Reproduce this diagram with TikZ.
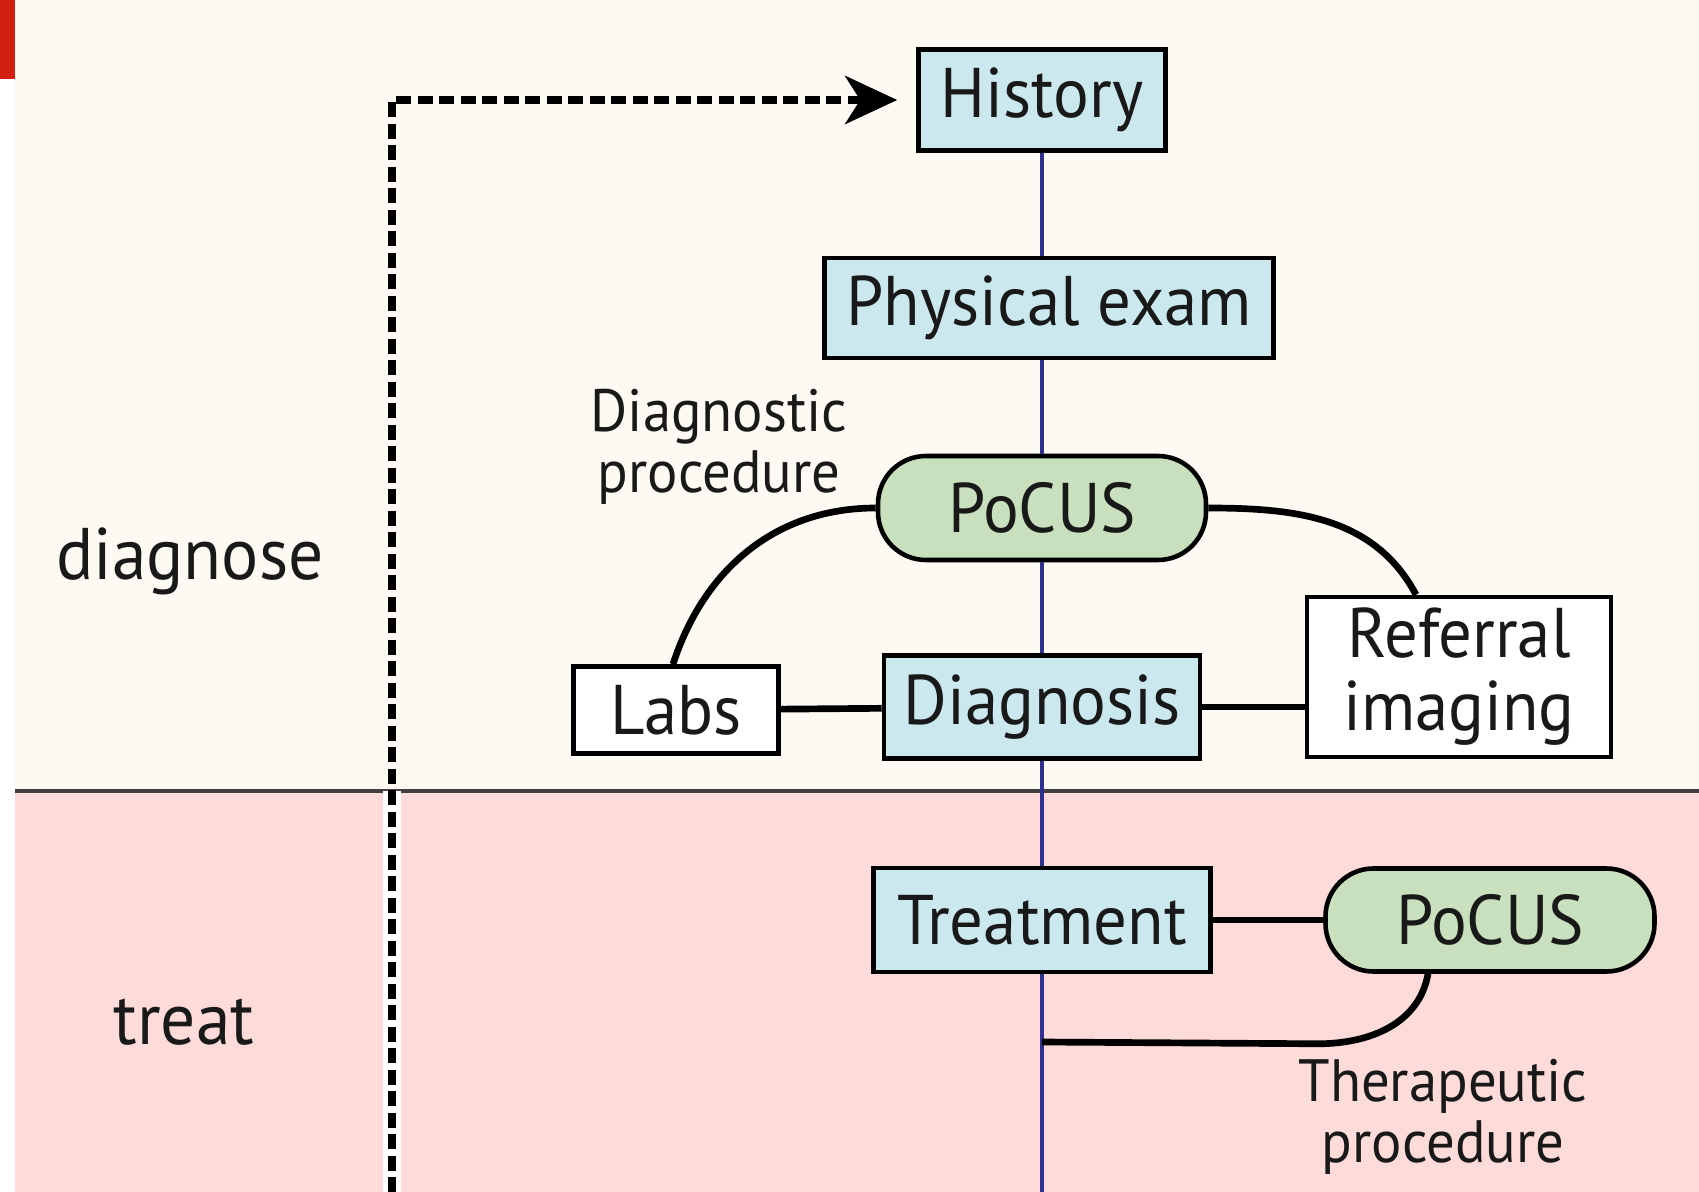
\documentclass[tikz,border=0pt]{standalone}
\usepackage{fontspec}
\setmainfont[FakeStretch=0.95]{PT Sans}
\usetikzlibrary{arrows.meta}
\definecolor{cream}{RGB}{253,249,243}
\definecolor{blush}{RGB}{252,219,216}
\definecolor{boxblue}{RGB}{204,232,239}
\definecolor{boxgreen}{RGB}{200,224,190}
\definecolor{axisblue}{RGB}{46,49,146}
\definecolor{tabred}{RGB}{212,32,16}

\begin{document}
\begin{tikzpicture}[x=0.1mm,y=-0.1mm]
\tikzstyle{every node}+=[inner sep=0pt,text=black!90]
\tikzstyle{stepbox}=[draw,line width=1.3pt,fill=boxblue,font=\fontsize{20}{24}\selectfont]
\tikzstyle{sidebox}=[draw,line width=1.3pt,fill=white,align=center,font=\fontsize{20}{20.8}\selectfont]
\tikzstyle{scanbox}=[draw,line width=1.3pt,fill=boxgreen,rounded corners=4.8mm,font=\fontsize{20}{24}\selectfont]
\tikzstyle{note}=[align=center,font=\fontsize{17}{17.2}\selectfont]
\tikzstyle{phase}=[font=\fontsize{20.8}{22}\selectfont]
\tikzstyle{link}=[black,line width=1.9pt]
\tikzstyle{spine}=[axisblue,line width=1.3pt]
\tikzstyle{loop}=[black,line width=2.3pt,dash pattern=on 1.5mm off 0.65mm]
\useasboundingbox (0,0) rectangle (1699,1192);
\fill [white] (0,0) rectangle (1699,1192);
\fill [cream] (15,0) rectangle (1699,791);
\fill [blush] (15,791) rectangle (1699,1192);
\fill [tabred] (0,0) rectangle (15,79);
\draw [black!75,line width=1pt] (15,791) -- (1699,791);
\node [phase] (diagnose) at (190,561) {diagnose};
\node [phase] (treat) at (184,1022) {treat};
\node [stepbox,minimum width=24.7mm,minimum height=10.1mm] (history) at (1042,100) {History};
\node [stepbox,minimum width=44.9mm,minimum height=10mm] (exam) at (1049,308) {Physical exam};
\node [scanbox,minimum width=32.8mm,minimum height=10.4mm] (pocusdx) at (1042,508) {PoCUS};
\node [stepbox,minimum width=31.6mm,minimum height=10.3mm] (diagnosis) at (1042,707) {Diagnosis};
\node [sidebox,minimum width=20.5mm,minimum height=8.7mm] (labs) at (676,710) {Labs};
\node [sidebox,minimum width=30.4mm,minimum height=16mm] (referral) at (1459,677) {Referral\\imaging};
\node [stepbox,minimum width=33.7mm,minimum height=10.4mm] (treatment) at (1042,920) {Treatment};
\node [scanbox,minimum width=32.9mm,minimum height=10.3mm] (pocustx) at (1490,920) {PoCUS};
\node [note] (dxproc) at (719,447) {Diagnostic\\procedure};
\node [note] (txproc) at (1443,1117) {Therapeutic\\procedure};
\coordinate (spinefoot) at (1042,1192);
\coordinate (loopfoot) at (392,1192);
\coordinate (txjoin) at (1042,1042);
\draw [spine] (history.south) -- (history.south |- exam.north);
\draw [spine] (history.south |- exam.south) -- (pocusdx.north);
\draw [spine] (pocusdx.south) -- (diagnosis.north);
\draw [spine] (diagnosis.south) -- (treatment.north);
\draw [spine] (treatment.south) -- (spinefoot);
\draw [link] (labs) -- (diagnosis);
\draw [link] (diagnosis.east) -- (diagnosis.east -| referral.west);
\draw [link] ([xshift=-0.3mm]labs.north) to[out=72,in=180] (pocusdx.west);
\draw [link] (pocusdx.east) to[out=0,in=118] ([xshift=-4.3mm]referral.north);
\draw [link] (treatment) -- (pocustx);
\draw [link] ([xshift=-6.2mm]pocustx.south) to[out=-100,in=0] ++(-110,70) -- (txjoin);
\draw [white,line width=5pt] (loopfoot) -- (loopfoot |- 0,791);
\draw [loop,-{Stealth[length=5.2mm,width=4.8mm,inset=1.5mm]},shorten >=1.9mm] (loopfoot) |- (history.west);
\end{tikzpicture}
\end{document}
